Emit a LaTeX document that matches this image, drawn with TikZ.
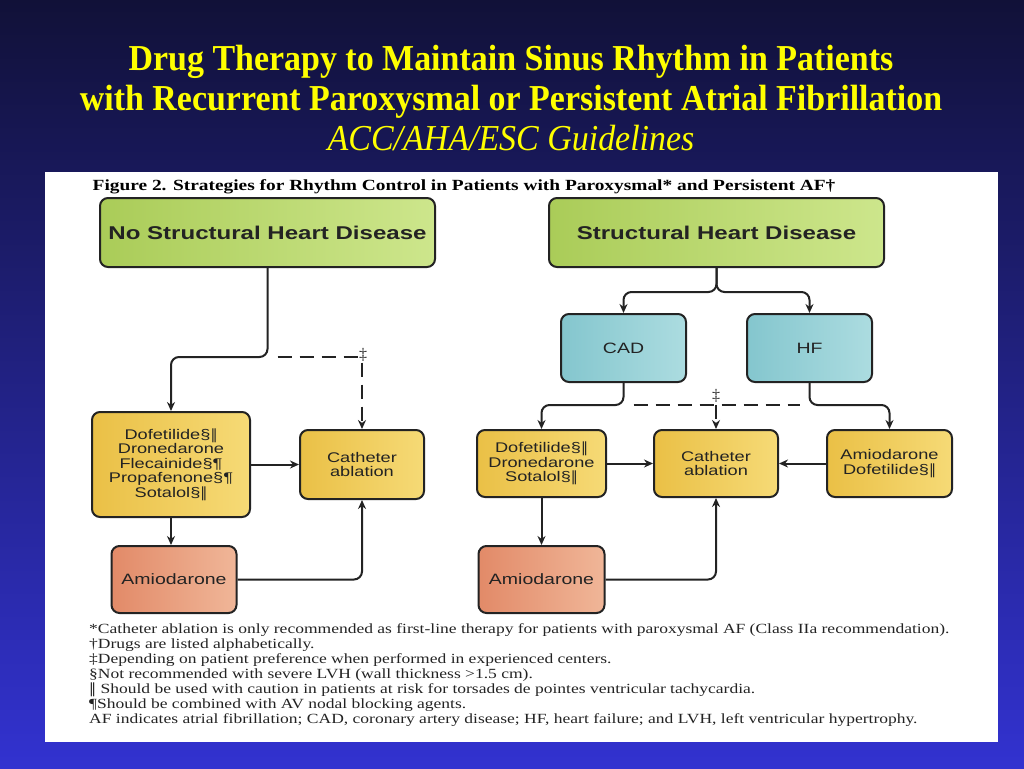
\documentclass[tikz,border=0pt]{standalone}
\usepackage{fontspec}
\usepackage{tikz}
\usetikzlibrary{calc}
\usetikzlibrary{arrows,arrows.meta,shapes,positioning}
\tikzset{>={Stealth[length=9pt,width=8pt]}}
\setmainfont{Liberation Serif}
\newfontfamily\titlefont[FakeStretch=0.93]{Liberation Serif}
\newfontfamily\boxfont[FakeStretch=1.3]{Liberation Sans}
\newfontfamily\notefont[FakeStretch=1.25]{Liberation Serif}
\newfontfamily\symfont{DejaVu Sans}
\newcommand{\dblbar}{{\symfont ‖}}
\definecolor{slidetop}{RGB}{17,17,56}
\definecolor{slidebot}{RGB}{50,50,208}
\definecolor{titleyel}{RGB}{255,255,0}
\definecolor{greenL}{RGB}{170,204,88}
\definecolor{greenR}{RGB}{205,230,140}
\definecolor{tealL}{RGB}{132,198,206}
\definecolor{tealR}{RGB}{172,220,224}
\definecolor{yelL}{RGB}{234,192,70}
\definecolor{yelR}{RGB}{246,218,118}
\definecolor{salL}{RGB}{226,138,104}
\definecolor{salR}{RGB}{240,182,152}
\definecolor{inkline}{RGB}{35,35,35}
\tikzset{
	box/.style={draw=inkline, line width=2pt, rounded corners=8pt, align=center, text=inkline, inner sep=2pt},
	headbox/.style={box, left color=greenL, right color=greenR, minimum width=335pt, minimum height=69pt, font=\boxfont\bfseries\fontsize{18.5}{22}\selectfont},
	tealbox/.style={box, left color=tealL, right color=tealR, minimum width=125pt, minimum height=68pt, font=\boxfont\fontsize{15}{17}\selectfont},
	drugbox/.style={box, left color=yelL, right color=yelR, minimum height=67pt, font=\boxfont\fontsize{14}{14.5}\selectfont},
	amiobox/.style={box, left color=salL, right color=salR, minimum width=125pt, minimum height=67pt, font=\boxfont\fontsize{15}{17}\selectfont},
	link/.style={draw=inkline, line width=2pt, rounded corners=8pt},
	dashlink/.style={link, dash pattern=on 14pt off 8pt},
	dagtext/.style={inner sep=1pt, text=inkline, font=\fontsize{16}{16}\selectfont},
	titletext/.style={align=center, text=titleyel, font=\titlefont\bfseries\fontsize{36.5}{40}\selectfont},
	captext/.style={inner sep=0pt, text=black, font=\notefont\bfseries\fontsize{15.5}{17}\selectfont},
	notetext/.style={align=left, inner sep=0pt, text=inkline, font=\notefont\fontsize{14}{15}\selectfont}
}
\begin{document}
\begin{tikzpicture}[x=1pt,y=-1pt]
	\useasboundingbox (0,0) rectangle (1024,768);
	\shade [top color=slidetop, bottom color=slidebot] (0,0) rectangle (1024,768);
	\fill [white] (45,172) rectangle (998,742);

	\draw (511,98) node (title) [titletext] {Drug Therapy to Maintain Sinus Rhythm in Patients\\with Recurrent Paroxysmal or Persistent Atrial Fibrillation\\{\mdseries\itshape ACC/AHA/ESC Guidelines}};
	\draw (464,187) node (caption) [captext] {Figure 2. Strategies for Rhythm Control in Patients with Paroxysmal* and Persistent AF†};

	\draw (267.5,232.5) node (nshd) [headbox] {No Structural Heart Disease};
	\draw (171,464.5) node (drugsL) [drugbox, minimum width=158pt, minimum height=105pt] {Dofetilide§\dblbar\\Dronedarone\\Flecainide§¶\\Propafenone§¶\\Sotalol§\dblbar};
	\draw (362,464.5) node (cathL) [drugbox, minimum width=124pt, minimum height=69pt] {Catheter\\ablation};
	\draw (174,579.5) node (amioL) [amiobox] {Amiodarone};
	\draw (363,355) node (ddL) [dagtext] {‡};
	\coordinate (jl) at (267.5,357);

	\draw [link,->] (nshd.south) -- (jl) -| (drugsL.north);
	\draw [dashlink] ($(jl)+(10,0)$) -- (ddL.west |- jl);
	\draw [dashlink,->] (ddL.south -| cathL.north) -- (cathL.north);
	\draw [link,->] (drugsL.east) -- (cathL.west);
	\draw [link,->] (drugsL.south) -- (drugsL.south |- amioL.north);
	\draw [link,->] (amioL.east) -| (cathL.south);

	\draw (716.5,232.5) node (shd) [headbox] {Structural Heart Disease};
	\draw (623.5,348) node (cad) [tealbox] {CAD};
	\draw (809.5,348) node (hf) [tealbox] {HF};
	\draw (541.5,463.5) node (drugsR) [drugbox, minimum width=129pt] {Dofetilide§\dblbar\\Dronedarone\\Sotalol§\dblbar};
	\draw (716,463.5) node (cathR) [drugbox, minimum width=124pt] {Catheter\\ablation};
	\draw (889.5,463.5) node (amdoR) [drugbox, minimum width=125pt] {Amiodarone\\Dofetilide§\dblbar};
	\draw (541.5,579.5) node (amioR) [amiobox, minimum width=126pt] {Amiodarone};
	\draw (716,396) node (ddR) [dagtext] {‡};
	\coordinate (jr) at (716.5,292);
	\coordinate (jc) at (623.5,405);
	\coordinate (jh) at (809.5,405);

	\draw [link,->] (shd.south) -- (jr) -| (cad.north);
	\draw [link,->] (shd.south) -- (jr) -| (hf.north);
	\draw [link,->] (cad.south) -- (jc) -| (drugsR.north);
	\draw [link,->] (hf.south) -- (jh) -| (amdoR.north);
	\draw [dashlink] ($(jc)+(10,0)$) -- ($(jh)+(-10,0)$);
	\draw [dashlink,->] (cathR.north |- jc) -- (cathR.north);
	\draw [link,->] (drugsR.east) -- (cathR.west);
	\draw [link,->] (amdoR.west) -- (cathR.east);
	\draw [link,->] (drugsR.south) -- (amioR.north);
	\draw [link,->] (amioR.east) -| (cathR.south);

	\draw (89,623) node (notes) [notetext, anchor=north west] {*Catheter ablation is only recommended as first-line therapy for patients with paroxysmal AF (Class IIa recommendation).\\†Drugs are listed alphabetically.\\‡Depending on patient preference when performed in experienced centers.\\§Not recommended with severe LVH (wall thickness >1.5 cm).\\\dblbar\ Should be used with caution in patients at risk for torsades de pointes ventricular tachycardia.\\¶Should be combined with AV nodal blocking agents.\\AF indicates atrial fibrillation; CAD, coronary artery disease; HF, heart failure; and LVH, left ventricular hypertrophy.};
\end{tikzpicture}
\end{document}
